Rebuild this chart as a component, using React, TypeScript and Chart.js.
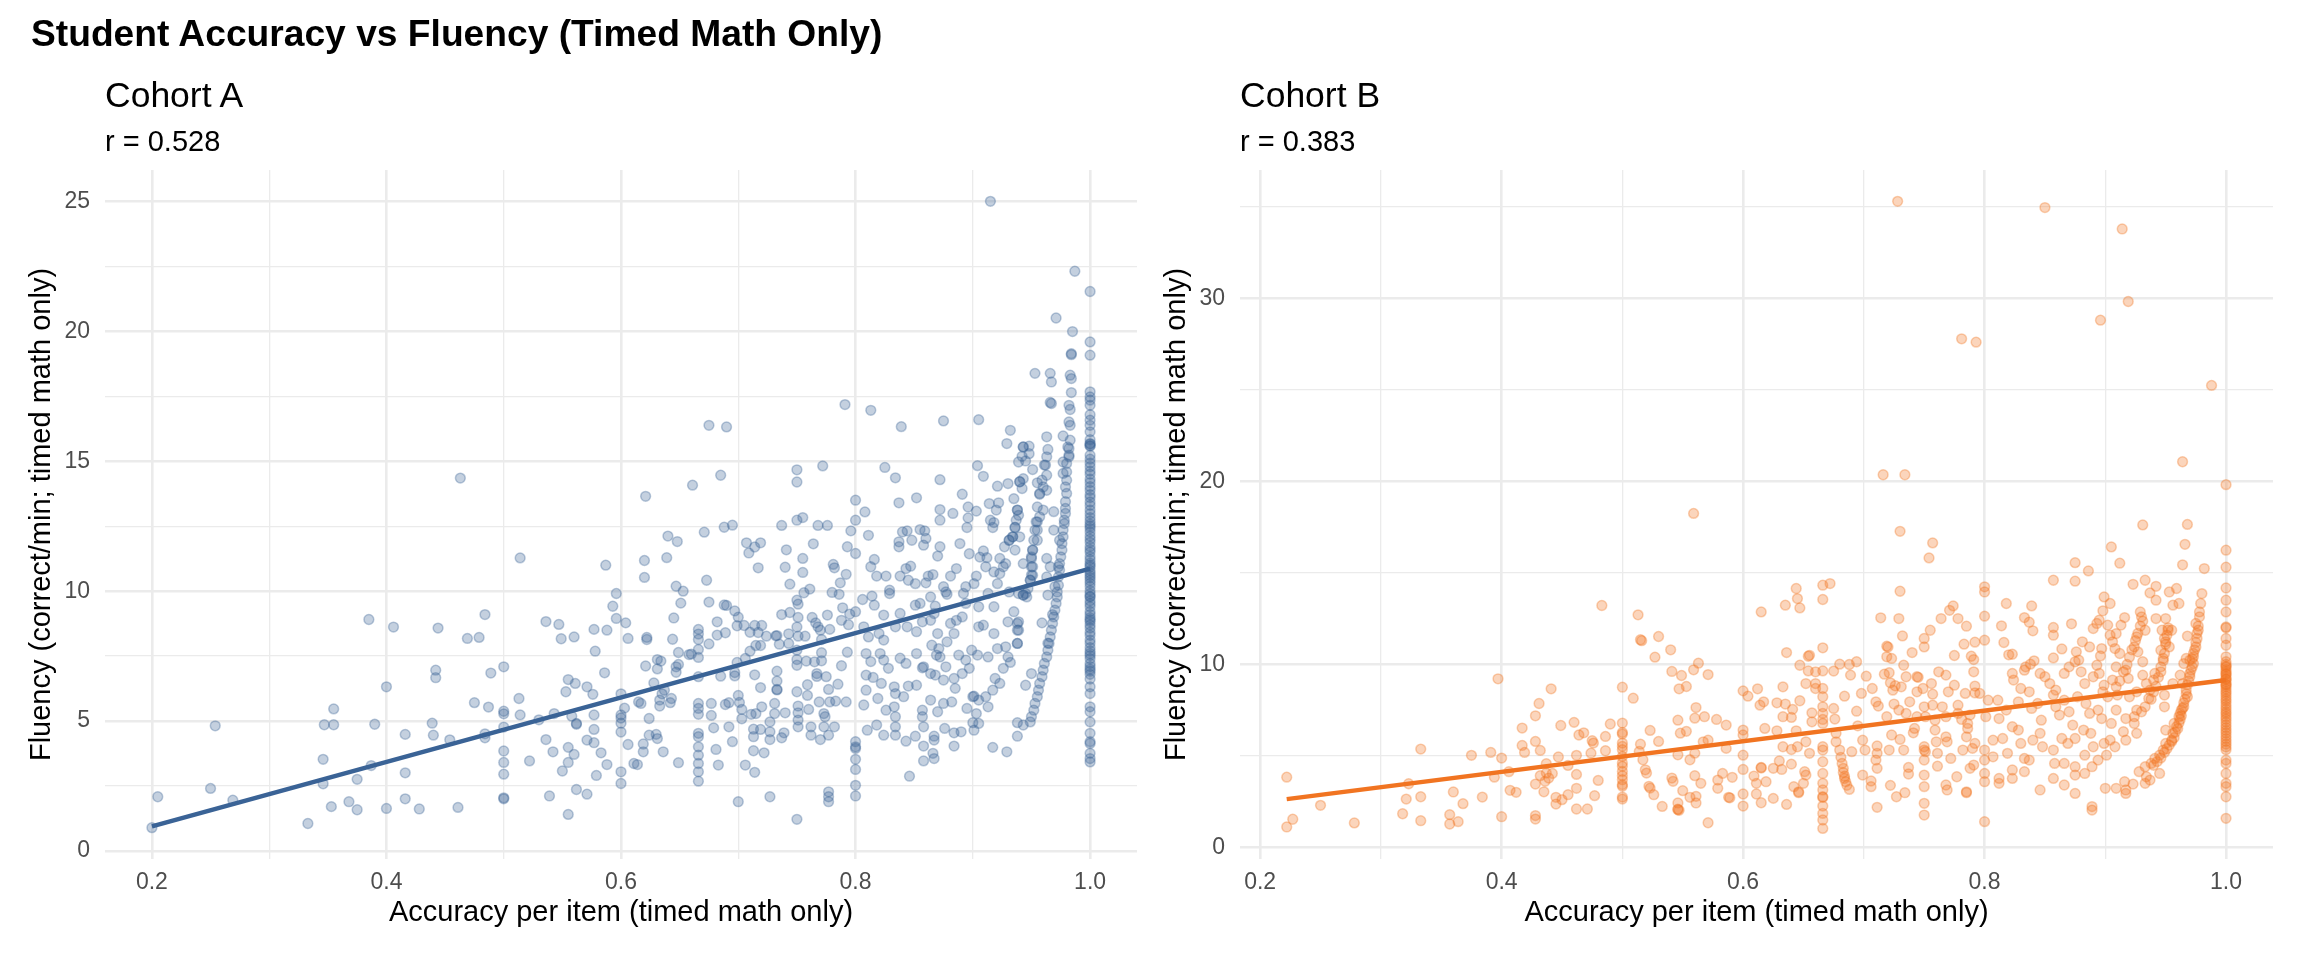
import React, { useEffect, useRef } from "react";
import { Chart, registerables } from "chart.js";

Chart.register(...registerables);

type P = [number, number];

// ---------------- Cohort A (accuracy, fluency) ----------------
const cohortA_low: P[] = [
  [0.2, 0.9], [0.205, 2.09], [0.25, 2.41], [0.254, 4.82], [0.269, 1.96], [0.333, 1.06], [0.346, 3.53], [0.346, 2.59],
  [0.347, 4.86], [0.355, 4.86], [0.355, 5.47], [0.353, 1.71], [0.368, 1.9], [0.375, 2.76], [0.375, 1.59], [0.385, 8.91],
  [0.387, 3.29], [0.39, 4.88], [0.4, 6.32], [0.4, 1.64], [0.406, 8.62], [0.416, 4.49], [0.416, 3.01], [0.416, 2.01],
  [0.428, 1.62], [0.439, 4.92], [0.44, 4.46], [0.442, 6.96], [0.442, 6.67], [0.444, 8.58], [0.454, 4.28], [0.461, 1.68],
  [0.463, 14.35], [0.469, 8.18], [0.479, 8.22], [0.475, 5.71], [0.484, 9.1], [0.484, 4.51], [0.484, 4.36], [0.487, 5.54],
  [0.489, 6.85], [0.5, 7.09], [0.5, 5.38], [0.5, 5.28], [0.5, 4.77], [0.5, 3.85], [0.5, 3.41], [0.5, 2.96], [0.5, 2.01],
  [0.5, 2.05], [0.514, 11.28], [0.513, 5.87], [0.514, 5.24], [0.522, 3.47], [0.53, 5.05], [0.536, 8.83], [0.536, 4.29],
  [0.539, 2.12], [0.542, 3.82], [0.543, 5.29], [0.547, 8.72], [0.549, 8.17], [0.55, 3.08], [0.553, 6.13], [0.555, 6.6],
  [0.555, 3.99], [0.555, 3.41], [0.555, 1.41], [0.558, 5.19], [0.56, 8.24], [0.561, 6.45], [0.562, 4.91], [0.562, 4.88],
  [0.56, 3.72], [0.562, 2.37], [0.571, 6.32], [0.571, 4.27], [0.571, 2.19], [0.576, 6.03], [0.577, 8.53], [0.578, 7.69],
  [0.577, 5.24], [0.577, 4.68], [0.577, 4.17], [0.579, 2.91], [0.583, 3.78], [0.586, 6.86], [0.587, 11.0], [0.588, 8.5],
  [0.588, 3.33], [0.593, 9.42], [0.596, 9.91], [0.596, 8.95], [0.6, 3.05], [0.6, 2.6], [0.6, 6.05], [0.6, 5.24],
  [0.6, 5.12], [0.6, 4.92], [0.6, 4.58], [0.604, 8.78], [0.606, 8.18], [0.606, 4.1], [0.603, 5.5],
];

const cohortA_mid: P[] = [
  [0.791, 17.18], [0.675, 16.38], [0.69, 16.32], [0.772, 14.82], [0.75, 14.67], [0.75, 14.2], [0.685, 14.46], [0.661, 14.08],
  [0.621, 13.65], [0.75, 12.73], [0.755, 12.83], [0.737, 12.53], [0.768, 12.53], [0.776, 12.53], [0.688, 12.46], [0.695, 12.54],
  [0.671, 12.27], [0.796, 12.32], [0.64, 12.12], [0.648, 11.91], [0.707, 11.86], [0.719, 11.86], [0.709, 11.47], [0.714, 11.7],
  [0.741, 11.59], [0.764, 11.82], [0.793, 11.71], [0.639, 11.29], [0.62, 11.18], [0.62, 10.53], [0.717, 10.9], [0.74, 10.92],
  [0.755, 11.26], [0.755, 10.72], [0.781, 11.03], [0.782, 10.9], [0.792, 10.65], [0.673, 10.42], [0.744, 10.27], [0.787, 10.32],
  [0.647, 10.19], [0.653, 10.0], [0.761, 10.08], [0.756, 9.94], [0.78, 9.95], [0.786, 9.88], [0.651, 9.54], [0.675, 9.58],
  [0.688, 9.47], [0.69, 9.45], [0.75, 9.65], [0.751, 9.5], [0.645, 8.97], [0.682, 8.82], [0.697, 9.24], [0.7, 9.0],
  [0.699, 8.67], [0.705, 8.68], [0.737, 9.1], [0.744, 9.18], [0.751, 8.99], [0.763, 8.99], [0.776, 9.08], [0.766, 8.78],
  [0.789, 9.36], [0.788, 8.88], [0.795, 9.12], [0.622, 8.22], [0.622, 8.14], [0.644, 8.15], [0.666, 8.53], [0.666, 8.35],
  [0.666, 8.14], [0.675, 7.97], [0.682, 8.31], [0.689, 8.4], [0.71, 8.42], [0.714, 8.68], [0.72, 8.68], [0.717, 8.41],
  [0.724, 8.27], [0.732, 8.28], [0.733, 8.29], [0.743, 8.36], [0.75, 8.62], [0.751, 8.27], [0.757, 8.27], [0.768, 8.63],
  [0.77, 8.5], [0.771, 8.14], [0.778, 8.53], [0.794, 8.71], [0.649, 7.64], [0.658, 7.56], [0.66, 7.58], [0.666, 7.76],
  [0.666, 7.45], [0.71, 7.69], [0.715, 7.91], [0.719, 7.91], [0.735, 7.96], [0.743, 7.99], [0.699, 7.26], [0.706, 7.41],
  [0.75, 7.73], [0.75, 7.37], [0.75, 7.15], [0.758, 7.31], [0.765, 7.28], [0.771, 7.63], [0.771, 7.32], [0.793, 7.65],
  [0.631, 7.37], [0.634, 7.31], [0.621, 7.12], [0.631, 7.01], [0.647, 7.09], [0.647, 6.88], [0.649, 7.18], [0.666, 6.71],
  [0.685, 6.73], [0.697, 6.87], [0.697, 6.74], [0.714, 6.78], [0.733, 6.92], [0.733, 6.54], [0.733, 6.22], [0.733, 6.2],
  [0.767, 6.83], [0.767, 6.72], [0.775, 6.71], [0.788, 7.13], [0.628, 6.47], [0.637, 6.19], [0.635, 6.05], [0.719, 6.29],
  [0.75, 6.13], [0.759, 6.4], [0.759, 5.99], [0.777, 6.22], [0.785, 6.42], [0.615, 5.74], [0.617, 5.68], [0.633, 5.81],
  [0.633, 5.58], [0.643, 5.87], [0.642, 5.71], [0.666, 5.68], [0.666, 5.49], [0.666, 5.26], [0.677, 5.68], [0.677, 5.22],
  [0.689, 5.64], [0.692, 5.71], [0.7, 5.99], [0.701, 5.72], [0.703, 5.45], [0.703, 5.09], [0.711, 5.26], [0.715, 5.29],
  [0.72, 5.55], [0.731, 5.68], [0.731, 5.29], [0.74, 5.32], [0.751, 5.58], [0.751, 5.32], [0.751, 5.04], [0.751, 4.78],
  [0.76, 5.45], [0.769, 5.74], [0.773, 5.29], [0.774, 5.17], [0.778, 5.74], [0.783, 5.77], [0.792, 5.74], [0.624, 5.1],
  [0.624, 4.46], [0.63, 4.49], [0.631, 4.33], [0.619, 4.12], [0.619, 3.82], [0.636, 3.82], [0.666, 4.53], [0.666, 4.4],
  [0.666, 4.01], [0.666, 3.69], [0.666, 3.37], [0.666, 3.05], [0.666, 2.69], [0.679, 4.74], [0.681, 3.91], [0.683, 3.31],
  [0.692, 4.78], [0.695, 4.21], [0.649, 3.4], [0.611, 3.37], [0.614, 3.33], [0.7, 1.9], [0.706, 3.31], [0.713, 4.69],
  [0.713, 4.4], [0.713, 3.86], [0.714, 3.03], [0.719, 4.68], [0.722, 3.78], [0.727, 4.97], [0.727, 4.59], [0.727, 4.29],
  [0.727, 2.09], [0.737, 4.36], [0.739, 4.55], [0.762, 4.78], [0.762, 4.46], [0.77, 4.29], [0.773, 4.78], [0.777, 4.46],
  [0.782, 4.78], [0.75, 1.22], [0.777, 2.28], [0.777, 2.09], [0.777, 1.9], [0.8, 4.21], [0.8, 4.01], [0.8, 3.95],
  [0.8, 3.53], [0.8, 3.14], [0.8, 2.53], [0.8, 2.12],
];

const cohortA_high: P[] = [
  [0.825, 14.76], [0.834, 14.36], [0.872, 14.29], [0.904, 14.83], [0.909, 14.42], [0.939, 14.97], [0.945, 15.01], [0.951, 14.68],
  [0.961, 14.85], [0.963, 14.46], [0.977, 14.97], [0.943, 14.33], [0.921, 14.04], [0.93, 14.14], [0.94, 14.21], [0.942, 13.95],
  [0.955, 14.17], [0.96, 14.01], [0.963, 13.88], [0.957, 13.73], [0.8, 13.5], [0.808, 13.05], [0.837, 13.4], [0.852, 13.59],
  [0.891, 13.73], [0.922, 13.4], [0.914, 13.37], [0.935, 13.56], [0.938, 13.12], [0.872, 13.14], [0.872, 12.73], [0.883, 12.99],
  [0.896, 13.24], [0.903, 13.08], [0.896, 12.82], [0.895, 12.45], [0.915, 12.73], [0.918, 12.64], [0.917, 12.45], [0.92, 13.12],
  [0.939, 12.92], [0.937, 12.73], [0.936, 12.45], [0.96, 13.12], [0.957, 12.86], [0.955, 12.67], [0.969, 13.06], [0.955, 12.35],
  [0.969, 12.35], [0.8, 12.73], [0.811, 12.15], [0.84, 12.28], [0.844, 12.32], [0.855, 12.37], [0.859, 12.32], [0.837, 11.9],
  [0.837, 11.71], [0.848, 11.96], [0.858, 11.77], [0.86, 12.03], [0.872, 11.71], [0.87, 11.35], [0.889, 11.83], [0.897, 11.44],
  [0.906, 11.31], [0.909, 11.55], [0.912, 11.29], [0.923, 11.26], [0.927, 11.71], [0.931, 11.96], [0.934, 12.09], [0.94, 12.09],
  [0.936, 11.58], [0.951, 11.58], [0.95, 11.32], [0.955, 11.96], [0.963, 11.26], [0.8, 11.45], [0.816, 11.22], [0.813, 10.94],
  [0.818, 10.58], [0.826, 10.58], [0.838, 10.58], [0.843, 10.87], [0.847, 10.96], [0.845, 10.42], [0.851, 10.29], [0.86, 10.32],
  [0.862, 10.58], [0.866, 10.64], [0.875, 10.17], [0.881, 10.58], [0.886, 10.87], [0.903, 10.58], [0.901, 10.29], [0.894, 10.17],
  [0.911, 10.94], [0.918, 10.74], [0.923, 10.68], [0.926, 10.94], [0.928, 11.06], [0.921, 10.29], [0.943, 11.06], [0.95, 10.94],
  [0.951, 10.61], [0.949, 10.42], [0.966, 10.94], [0.963, 10.55], [0.806, 9.68], [0.814, 9.81], [0.829, 10.04], [0.829, 9.91],
  [0.816, 9.46], [0.824, 9.08], [0.838, 9.14], [0.851, 9.46], [0.855, 9.53], [0.864, 9.78], [0.868, 9.42], [0.877, 9.97],
  [0.878, 9.88], [0.892, 9.91], [0.894, 9.53], [0.905, 9.4], [0.913, 9.91], [0.918, 9.4], [0.931, 9.97], [0.939, 9.91],
  [0.943, 9.85], [0.946, 9.78], [0.935, 9.21], [0.964, 9.85], [0.8, 9.21], [0.807, 8.63], [0.811, 8.24], [0.82, 8.37],
  [0.824, 8.12], [0.834, 8.63], [0.844, 8.63], [0.852, 8.44], [0.857, 8.82], [0.864, 8.88], [0.867, 9.14], [0.87, 8.37],
  [0.881, 8.76], [0.886, 8.88], [0.884, 8.37], [0.891, 9.01], [0.905, 8.63], [0.909, 8.69], [0.918, 8.37], [0.93, 8.82],
  [0.938, 8.76], [0.939, 8.5], [0.938, 7.99], [0.959, 8.78], [0.809, 7.6], [0.813, 7.29], [0.821, 7.6], [0.824, 7.35],
  [0.828, 7.03], [0.838, 7.42], [0.843, 7.22], [0.852, 7.6], [0.858, 7.09], [0.865, 7.92], [0.871, 7.79], [0.869, 7.54],
  [0.872, 7.47], [0.878, 8.05], [0.888, 7.54], [0.894, 7.35], [0.899, 7.73], [0.904, 7.54], [0.913, 7.47], [0.921, 7.79],
  [0.928, 7.86], [0.93, 7.47], [0.932, 7.26], [0.809, 6.77], [0.815, 6.68], [0.822, 6.45], [0.833, 6.32], [0.834, 6.06],
  [0.845, 6.35], [0.852, 6.38], [0.857, 7.05], [0.864, 6.83], [0.868, 6.77], [0.877, 7.09], [0.875, 6.58], [0.884, 6.64],
  [0.885, 6.26], [0.891, 6.83], [0.897, 7.03], [0.901, 5.96], [0.919, 6.64], [0.923, 6.45], [0.917, 6.19], [0.926, 7.03],
  [0.945, 6.38], [0.95, 6.83], [0.807, 5.62], [0.809, 6.19], [0.819, 5.87], [0.826, 5.42], [0.833, 5.55], [0.834, 5.17],
  [0.841, 5.94], [0.857, 5.42], [0.857, 5.17], [0.864, 5.81], [0.87, 5.36], [0.875, 5.68], [0.882, 5.74], [0.895, 5.49],
  [0.9, 5.94], [0.905, 5.81], [0.903, 5.29], [0.911, 5.94], [0.913, 5.55], [0.938, 4.94], [0.943, 4.85], [0.81, 4.65],
  [0.818, 4.85], [0.824, 4.46], [0.834, 4.78], [0.834, 4.46], [0.843, 4.23], [0.851, 4.42], [0.858, 4.78], [0.858, 4.04],
  [0.867, 4.42], [0.867, 4.27], [0.866, 3.76], [0.867, 3.56], [0.858, 3.47], [0.876, 4.72], [0.884, 4.55], [0.884, 4.04],
  [0.89, 4.59], [0.9, 4.94], [0.901, 4.65], [0.905, 4.91], [0.917, 3.99], [0.929, 3.82], [0.938, 4.42], [0.846, 2.88],
];

const cohortA_arc: P[] = [
  [0.981, 15.55], [0.982, 15.17], [0.98, 14.91], [0.98, 14.59], [0.98, 14.27], [0.979, 14.01], [0.98, 13.76], [0.979, 13.44],
  [0.979, 13.18], [0.979, 12.99], [0.978, 12.6], [0.977, 12.35], [0.977, 12.09], [0.976, 11.83], [0.976, 11.58], [0.975, 11.32],
  [0.974, 11.06], [0.974, 10.81], [0.973, 10.55], [0.973, 10.23], [0.972, 9.97], [0.972, 9.78], [0.971, 9.53], [0.97, 9.27],
  [0.969, 9.01], [0.968, 8.76], [0.967, 8.5], [0.966, 8.24], [0.965, 7.99], [0.964, 7.73], [0.963, 7.47], [0.961, 7.22],
  [0.96, 6.96], [0.959, 6.71], [0.957, 6.45], [0.956, 6.19], [0.955, 5.94], [0.953, 5.68], [0.952, 5.42], [0.95, 5.17],
  [0.949, 4.97], [0.977, 14.53], [0.978, 12.73], [0.974, 11.96], [0.973, 10.94], [0.97, 10.17], [0.968, 9.1], [0.964, 8.0],
];

const cohortA_arc2: P[] = [
  [0.962, 14.85], [0.959, 14.27], [0.957, 13.76], [0.955, 13.24], [0.954, 12.67], [0.953, 12.35], [0.952, 11.96], [0.951, 11.58],
  [0.95, 11.26], [0.951, 10.94], [0.95, 10.62], [0.949, 10.42], [0.947, 10.1], [0.945, 9.91], [0.943, 9.85], [0.939, 8.82],
  [0.938, 8.5], [0.938, 7.99], [0.943, 15.55], [0.94, 14.21], [0.938, 13.12], [0.936, 12.45], [0.934, 12.09], [0.931, 11.96],
];

const cohortA_top: P[] = [
  [0.915, 25.0], [0.987, 22.31], [0.971, 20.51], [0.985, 19.99], [0.984, 19.14], [0.984, 19.1], [0.953, 18.38], [0.966, 18.38],
  [0.967, 18.05], [0.983, 18.31], [0.984, 18.18], [0.984, 17.64], [0.966, 17.26], [0.967, 17.22], [0.982, 17.15], [0.983, 16.99],
  [0.982, 16.51], [0.983, 16.38], [0.977, 15.97], [0.983, 15.81], [0.963, 15.94], [0.964, 15.45], [0.963, 15.17], [0.982, 15.49],
  [0.982, 15.23], [0.932, 16.19], [0.929, 15.68], [0.943, 15.55], [0.948, 15.58], [0.948, 15.29], [0.942, 15.19], [0.905, 16.6],
  [0.875, 16.55], [0.839, 16.33], [0.813, 16.96],
];

const cohortA_perfect: P[] = [
  [1, 21.53], [1, 19.59], [1, 19.08], [1, 17.67], [1, 17.47], [1, 17.35], [1, 17.15], [1, 16.79], [1, 16.58], [1, 16.38],
  [1, 16.13], [1, 15.83], [1, 15.68], [1, 15.66], [1, 15.58], [1, 15.23], [1, 15.08], [1, 14.93], [1, 14.79], [1, 14.62],
  [1, 14.5], [1, 14.31], [1, 14.18], [1, 14.02], [1, 13.88], [1, 13.71], [1, 13.6], [1, 13.43], [1, 13.3], [1, 13.12],
  [1, 12.98], [1, 12.83], [1, 12.7], [1, 12.58], [1, 12.41], [1, 12.28], [1, 12.12], [1, 12.0], [1, 11.88], [1, 11.72],
  [1, 11.6], [1, 11.5], [1, 11.33], [1, 11.21], [1, 11.08], [1, 10.93], [1, 10.8], [1, 10.7], [1, 10.52], [1, 10.41],
  [1, 10.3], [1, 10.18], [1, 10.02], [1, 9.9], [1, 9.78], [1, 9.63], [1, 9.52], [1, 9.4], [1, 9.22], [1, 9.1],
  [1, 8.98], [1, 8.83], [1, 8.7], [1, 8.58], [1, 8.42], [1, 8.3], [1, 8.12], [1, 8.0], [1, 7.83], [1, 7.7],
  [1, 7.52], [1, 7.4], [1, 7.22], [1, 7.1], [1, 6.92], [1, 6.8], [1, 6.62], [1, 6.32], [1, 6.06], [1, 5.55],
  [1, 5.36], [1, 4.97], [1, 4.53], [1, 4.21], [1, 4.14], [1, 3.76], [1, 3.56], [1, 3.43], [1, 15.6], [1, 12.5],
  [1, 11.0], [1, 10.6], [1, 9.8], [1, 8.9], [1, 7.6], [1, 7.0],
];

const cohortA_fit: P[] = [[0.2, 0.95], [1.0, 10.87]];

// ---------------- Cohort B (accuracy, fluency) ----------------
const cohortB_low: P[] = [
  [0.222, 3.85], [0.222, 1.13], [0.227, 1.55], [0.25, 2.31], [0.278, 1.35], [0.318, 1.85], [0.321, 2.65], [0.323, 3.49],
  [0.333, 5.38], [0.333, 2.78], [0.333, 1.47], [0.357, 1.8], [0.357, 1.29], [0.36, 3.04], [0.364, 1.42], [0.368, 2.4],
  [0.375, 5.04], [0.384, 2.76], [0.391, 5.2], [0.394, 3.85], [0.397, 9.22], [0.4, 4.89], [0.4, 1.69], [0.406, 4.15],
  [0.407, 3.13], [0.412, 3.02], [0.417, 6.53], [0.417, 5.58], [0.419, 5.2], [0.428, 7.2], [0.431, 7.87], [0.428, 5.8],
  [0.432, 5.31], [0.428, 3.47], [0.428, 1.75], [0.428, 1.56], [0.435, 3.05], [0.436, 3.62], [0.437, 4.58], [0.437, 4.07],
  [0.432, 3.93], [0.439, 3.8], [0.441, 8.67], [0.442, 4.05], [0.445, 2.75], [0.445, 2.38], [0.447, 4.95], [0.449, 6.67],
  [0.45, 2.62], [0.455, 4.49], [0.455, 2.89], [0.46, 6.84], [0.462, 5.04], [0.462, 4.0], [0.462, 3.24], [0.462, 2.11],
  [0.464, 6.15], [0.468, 6.27], [0.474, 5.16], [0.475, 5.84], [0.476, 5.71], [0.471, 2.11], [0.477, 2.84], [0.48, 3.67],
  [0.483, 13.22], [0.486, 6.07], [0.486, 5.29], [0.49, 6.75], [0.5, 8.76], [0.5, 6.8], [0.5, 6.29], [0.5, 6.2],
  [0.5, 5.71], [0.5, 5.53], [0.5, 5.35], [0.5, 4.98], [0.5, 4.62], [0.5, 4.44], [0.5, 4.16], [0.5, 3.93],
  [0.5, 3.71], [0.5, 3.44], [0.5, 3.35], [0.5, 2.76], [0.5, 2.65], [0.509, 8.16], [0.513, 12.71], [0.515, 11.35],
  [0.516, 11.3], [0.515, 5.65], [0.514, 5.25], [0.517, 4.8], [0.519, 4.25], [0.52, 4.07], [0.522, 3.35], [0.523, 6.4],
  [0.523, 3.25], [0.526, 2.89], [0.527, 10.4], [0.53, 11.53], [0.53, 5.8], [0.533, 2.25], [0.54, 10.8], [0.541, 9.62],
  [0.541, 3.8], [0.542, 3.62], [0.546, 6.96], [0.546, 5.07], [0.546, 2.44], [0.546, 2.07], [0.546, 2.1], [0.547, 2.04],
  [0.548, 6.25], [0.547, 8.67], [0.549, 9.4], [0.55, 3.11], [0.553, 8.8], [0.553, 6.35], [0.556, 4.8], [0.556, 2.75],
  [0.559, 9.71], [0.56, 7.07], [0.561, 7.65], [0.56, 5.16], [0.56, 3.93], [0.561, 2.8], [0.561, 2.44], [0.563, 10.07],
];

const cohortB_mid: P[] = [
  [0.644, 14.15], [0.645, 13.6], [0.647, 13.09], [0.666, 14.33], [0.672, 14.42], [0.666, 13.55], [0.615, 12.87], [0.635, 13.24],
  [0.73, 14.0], [0.714, 12.55], [0.729, 12.51], [0.732, 11.56], [0.755, 11.87], [0.75, 11.42], [0.75, 10.96], [0.764, 12.51],
  [0.771, 12.96], [0.774, 13.2], [0.778, 12.51], [0.785, 12.09], [0.783, 11.11], [0.792, 11.22], [0.775, 10.49], [0.789, 10.45],
  [0.791, 10.27], [0.791, 9.6], [0.719, 11.0], [0.72, 10.95], [0.723, 10.33], [0.719, 10.42], [0.74, 10.65], [0.666, 10.91],
  [0.636, 10.65], [0.654, 10.45], [0.655, 10.5], [0.647, 9.96], [0.571, 9.45], [0.654, 9.65], [0.66, 9.6], [0.666, 9.65],
  [0.675, 9.64], [0.68, 10.02], [0.688, 10.0], [0.689, 9.42], [0.694, 10.15], [0.652, 8.96], [0.66, 8.96], [0.66, 8.69],
  [0.666, 8.69], [0.666, 8.24], [0.633, 8.78], [0.612, 8.67], [0.6, 8.56], [0.604, 8.27], [0.684, 8.27], [0.698, 8.42],
  [0.702, 9.36], [0.707, 8.69], [0.717, 9.47], [0.721, 9.55], [0.722, 9.0], [0.724, 8.6], [0.726, 8.84], [0.733, 9.96],
  [0.735, 9.33], [0.744, 9.33], [0.745, 9.3], [0.744, 8.51], [0.749, 8.69], [0.731, 8.78], [0.756, 8.96], [0.762, 9.6],
  [0.768, 9.42], [0.77, 8.51], [0.775, 8.87], [0.784, 8.42], [0.792, 8.82], [0.792, 8.45], [0.796, 8.42], [0.757, 8.38],
  [0.568, 7.15], [0.578, 7.0], [0.586, 6.69], [0.614, 7.78], [0.617, 7.96], [0.628, 7.91], [0.635, 7.84], [0.641, 7.55],
  [0.647, 8.02], [0.633, 7.15], [0.64, 7.11], [0.657, 7.36], [0.657, 6.87], [0.666, 7.69], [0.666, 7.33], [0.666, 7.0],
  [0.666, 6.78], [0.675, 7.6], [0.676, 7.02], [0.694, 7.45], [0.695, 6.65], [0.71, 7.96], [0.712, 7.73], [0.719, 7.15],
  [0.725, 7.84], [0.729, 7.51], [0.735, 7.33], [0.738, 7.96], [0.744, 7.15], [0.75, 7.69], [0.751, 7.15], [0.757, 7.78],
  [0.759, 6.96], [0.765, 7.69], [0.768, 7.15], [0.778, 7.78], [0.778, 7.33], [0.781, 7.0], [0.786, 6.78], [0.788, 7.24],
  [0.586, 5.42], [0.567, 5.78], [0.571, 5.87], [0.6, 6.42], [0.6, 6.15], [0.618, 6.51], [0.628, 6.38], [0.633, 5.51],
  [0.64, 5.36], [0.644, 6.38], [0.645, 5.51], [0.652, 5.78], [0.655, 5.15], [0.666, 5.51], [0.666, 5.33], [0.677, 6.24],
  [0.677, 5.78], [0.68, 5.33], [0.681, 4.93], [0.699, 5.87], [0.69, 5.24], [0.701, 5.33], [0.711, 5.55], [0.711, 5.15],
  [0.721, 5.33], [0.723, 6.15], [0.73, 5.91], [0.733, 5.33], [0.742, 6.51], [0.741, 6.27], [0.75, 5.51], [0.751, 5.24],
  [0.759, 6.42], [0.76, 5.78], [0.761, 5.15], [0.768, 6.05], [0.769, 5.78], [0.772, 4.87], [0.782, 5.33], [0.785, 6.05],
  [0.786, 6.51], [0.79, 5.42], [0.792, 5.69], [0.565, 3.51], [0.579, 3.69], [0.579, 3.24], [0.583, 4.05], [0.591, 3.84],
  [0.588, 2.75], [0.589, 2.72], [0.6, 5.05], [0.6, 4.27], [0.6, 2.93], [0.6, 2.27], [0.609, 3.91], [0.611, 3.51],
  [0.611, 2.93], [0.615, 4.38], [0.615, 4.35], [0.615, 2.45], [0.619, 3.6], [0.625, 4.33], [0.625, 2.69], [0.63, 4.73],
  [0.632, 4.27], [0.636, 2.36], [0.64, 4.56], [0.642, 3.33], [0.646, 3.05], [0.646, 3.0], [0.65, 3.51], [0.651, 4.15],
  [0.652, 3.96], [0.666, 4.69], [0.666, 4.05], [0.666, 3.51], [0.666, 3.15], [0.666, 2.78], [0.666, 2.74], [0.666, 2.27],
  [0.666, 1.87], [0.666, 1.51], [0.666, 1.05], [0.683, 4.33], [0.684, 3.78], [0.685, 3.6], [0.688, 3.18], [0.682, 4.6],
  [0.683, 4.1], [0.684, 3.9], [0.686, 3.4], [0.699, 3.96], [0.706, 3.64], [0.706, 3.33], [0.71, 4.78], [0.711, 4.33],
  [0.711, 2.2], [0.722, 3.4], [0.727, 2.78], [0.734, 3.0], [0.737, 4.38], [0.737, 4.02], [0.75, 5.33], [0.75, 4.78],
  [0.75, 3.96], [0.75, 3.33], [0.75, 2.42], [0.75, 1.78], [0.761, 4.45], [0.768, 3.42], [0.769, 3.15], [0.777, 3.87],
  [0.785, 3.05], [0.785, 3.0], [0.788, 4.33], [0.791, 4.51], [0.571, 1.36],
];

const cohortB_high: P[] = [
  [0.857, 14.6], [0.875, 14.55], [0.923, 14.38], [0.933, 14.6], [0.937, 13.91], [0.942, 14.27], [0.942, 13.51], [0.953, 13.96],
  [0.959, 14.15], [0.98, 13.87], [0.979, 13.33], [0.978, 12.87], [0.956, 13.24], [0.961, 13.33], [0.8, 14.24], [0.8, 13.96],
  [0.8, 12.64], [0.818, 13.33], [0.839, 13.2], [0.899, 13.69], [0.904, 13.33], [0.898, 12.93], [0.833, 12.56], [0.837, 12.31],
  [0.84, 11.84], [0.814, 12.11], [0.816, 11.2], [0.82, 10.53], [0.823, 10.56], [0.857, 12.02], [0.857, 11.6], [0.872, 12.22],
  [0.864, 10.85], [0.857, 10.36], [0.876, 10.69], [0.878, 10.24], [0.881, 11.24], [0.887, 10.96], [0.89, 11.96], [0.893, 12.24],
  [0.895, 12.42], [0.897, 10.87], [0.896, 10.47], [0.902, 12.15], [0.904, 11.6], [0.906, 11.24], [0.909, 11.69], [0.913, 12.15],
  [0.916, 12.56], [0.912, 10.6], [0.908, 10.87], [0.929, 12.87], [0.931, 12.36], [0.933, 11.87], [0.926, 11.51], [0.924, 10.96],
  [0.927, 10.69], [0.931, 10.15], [0.942, 12.51], [0.95, 12.51], [0.947, 11.87], [0.952, 11.87], [0.955, 11.87], [0.949, 11.42],
  [0.95, 11.24], [0.953, 10.96], [0.946, 10.78], [0.948, 10.33], [0.946, 9.87], [0.968, 11.55], [0.975, 12.24], [0.977, 11.87],
  [0.976, 11.42], [0.975, 10.96], [0.973, 10.42], [0.973, 10.05], [0.97, 10.24], [0.967, 10.33], [0.965, 10.05], [0.8, 11.33],
  [0.823, 9.51], [0.824, 9.15], [0.83, 8.69], [0.834, 9.87], [0.838, 10.02], [0.841, 10.2], [0.833, 9.69], [0.837, 8.51],
  [0.846, 9.51], [0.85, 9.33], [0.854, 8.96], [0.859, 8.6], [0.866, 9.51], [0.87, 9.87], [0.875, 10.15], [0.88, 9.6],
  [0.883, 8.96], [0.89, 9.33], [0.893, 9.96], [0.895, 9.51], [0.899, 8.87], [0.898, 8.51], [0.902, 8.24], [0.909, 9.87],
  [0.906, 9.15], [0.909, 8.78], [0.91, 8.33], [0.917, 9.69], [0.919, 9.24], [0.92, 8.24], [0.926, 8.51], [0.931, 9.42],
  [0.934, 8.96], [0.937, 8.6], [0.94, 9.15], [0.941, 9.51], [0.936, 8.15], [0.933, 7.69], [0.93, 7.42], [0.926, 7.51],
  [0.924, 7.15], [0.949, 8.33], [0.949, 7.69], [0.956, 8.96], [0.962, 9.42], [0.964, 8.96], [0.967, 8.6], [0.97, 9.33],
  [0.972, 9.87], [0.968, 8.24], [0.965, 7.69], [0.962, 7.33], [0.957, 6.78], [0.803, 8.05], [0.811, 8.05], [0.801, 7.15],
  [0.812, 7.05], [0.818, 7.51], [0.823, 6.6], [0.828, 7.96], [0.839, 7.6], [0.844, 7.87], [0.847, 6.96], [0.857, 8.33],
  [0.859, 7.69], [0.862, 7.24], [0.866, 8.05], [0.87, 7.42], [0.877, 8.24], [0.884, 7.87], [0.887, 7.33], [0.894, 7.51],
  [0.897, 7.05], [0.905, 6.78], [0.909, 7.51], [0.917, 7.05], [0.8, 5.33], [0.8, 4.78], [0.8, 4.05], [0.8, 3.6],
  [0.8, 1.42], [0.807, 5.87], [0.807, 4.96], [0.812, 3.78], [0.812, 3.51], [0.815, 5.96], [0.819, 5.15], [0.823, 4.24],
  [0.823, 3.78], [0.828, 6.42], [0.83, 5.69], [0.833, 4.87], [0.833, 4.15], [0.837, 4.78], [0.84, 5.87], [0.846, 6.24],
  [0.846, 3.15], [0.848, 5.51], [0.857, 5.33], [0.858, 4.6], [0.857, 3.78], [0.864, 5.96], [0.866, 4.6], [0.866, 3.42],
  [0.869, 5.69], [0.873, 6.69], [0.875, 5.96], [0.875, 4.42], [0.875, 3.96], [0.875, 2.96], [0.882, 6.42], [0.883, 5.05],
  [0.883, 4.05], [0.888, 6.24], [0.89, 5.51], [0.889, 4.42], [0.889, 2.24], [0.889, 2.05], [0.894, 4.78], [0.899, 5.69],
  [0.901, 5.05], [0.9, 3.24], [0.904, 5.87], [0.908, 5.51], [0.909, 3.24], [0.915, 6.33], [0.917, 5.87], [0.916, 3.6],
  [0.917, 3.15], [0.917, 2.96], [0.923, 3.47], [0.926, 6.24], [0.924, 6.78], [0.928, 4.15], [0.933, 4.42], [0.934, 3.87],
  [0.938, 4.6], [0.941, 4.87], [0.945, 5.05], [0.948, 5.33], [0.95, 5.69], [0.95, 6.42], [0.955, 5.87], [0.956, 6.24],
  [0.959, 6.6], [0.961, 7.15], [0.963, 7.51], [0.945, 4.05], [0.937, 3.69], [0.933, 3.51],
];

const cohortB_arcs: P[] = [
  [0.978, 12.6], [0.977, 12.1], [0.976, 11.7], [0.975, 11.2], [0.974, 10.8], [0.973, 10.6], [0.972, 10.3], [0.971, 9.7],
  [0.97, 9.5], [0.969, 9.1], [0.968, 8.9], [0.967, 8.4], [0.966, 8.1], [0.965, 7.9], [0.964, 7.6], [0.963, 7.2],
  [0.962, 7.0], [0.961, 6.8], [0.96, 6.5], [0.958, 6.3], [0.957, 6.0], [0.955, 5.8], [0.953, 5.6], [0.951, 5.4],
  [0.949, 5.2], [0.946, 4.9], [0.943, 4.7], [0.94, 4.5], [0.952, 12.0], [0.951, 11.6], [0.95, 11.1], [0.949, 10.6],
  [0.948, 10.2], [0.946, 9.6], [0.944, 9.3], [0.942, 8.8], [0.94, 8.5], [0.938, 8.1], [0.93, 12.6], [0.929, 12.1],
  [0.927, 11.7], [0.925, 11.3], [0.922, 10.8], [0.92, 10.4], [0.918, 10.0], [0.915, 9.6], [0.912, 9.1],
];

const cohortB_outliers: P[] = [
  [0.728, 35.29], [0.85, 34.95], [0.914, 33.78], [0.919, 29.82], [0.896, 28.8], [0.781, 27.78], [0.793, 27.6], [0.988, 25.24],
  [0.964, 21.07], [0.716, 20.36], [0.734, 20.36], [0.559, 18.25], [0.73, 17.27], [0.757, 16.64], [0.754, 15.82], [0.931, 17.62],
  [0.968, 17.65], [0.905, 16.42], [0.966, 16.56], [0.875, 15.56], [0.886, 15.11], [0.912, 15.53], [0.964, 15.44], [0.982, 15.24],
];

const cohortB_perfect: P[] = [
  [1, 19.82], [1, 16.24], [1, 15.31], [1, 14.18], [1, 13.51], [1, 12.87], [1, 12.05], [1, 12.0], [1, 11.42], [1, 11.05],
  [1, 10.42], [1, 10.15], [1, 10.0], [1, 9.86], [1, 9.72], [1, 9.61], [1, 9.47], [1, 9.33], [1, 9.2], [1, 9.06],
  [1, 8.92], [1, 8.8], [1, 8.66], [1, 8.52], [1, 8.41], [1, 8.27], [1, 8.12], [1, 8.0], [1, 7.85], [1, 7.7],
  [1, 7.56], [1, 7.41], [1, 7.3], [1, 7.15], [1, 7.01], [1, 6.86], [1, 6.7], [1, 6.55], [1, 6.4], [1, 6.26],
  [1, 6.1], [1, 5.95], [1, 5.8], [1, 5.65], [1, 5.5], [1, 5.35], [1, 9.9], [1, 9.5], [1, 9.2], [1, 8.9],
  [1, 4.78], [1, 4.6], [1, 4.05], [1, 3.51], [1, 3.33], [1, 2.78], [1, 1.6],
];

const cohortB_fit: P[] = [[0.222, 2.65], [1.0, 9.15]];

// ---------------- text ----------------
const mainTitle = "Student Accuracy vs Fluency (Timed Math Only)";
const panelTitles = ["Cohort A", "Cohort B"];
const panelSubtitles = ["r = 0.528", "r = 0.383"];
const xAxisTitle = "Accuracy per item (timed math only)";
const yAxisTitle = "Fluency (correct/min; timed math only)";

const FONT = "'Liberation Sans', Arial, Helvetica, sans-serif";
const BLUE = "58,99,150";
const ORANGE = "241,116,33";

const toXY = (lists: P[][]) => lists.flat().map(([x, y]) => ({ x, y }));

interface PanelOpts {
  points: P[][];
  fit: P[];
  rgb: string;
  xMin: number;
  xMax: number;
  yMin: number;
  yMax: number;
  yStep: number;
  yLabelEvery: number;
  yAxisWidth: number;
  rightPad: number;
  yTitlePad: number;
}

function isMult(v: number, m: number) {
  const r = v / m;
  return Math.abs(r - Math.round(r)) < 1e-6;
}

function buildConfig(o: PanelOpts): any {
  return {
    type: "scatter",
    data: {
      datasets: [
        {
          type: "line",
          data: toXY([o.fit]),
          borderColor: `rgb(${o.rgb})`,
          borderWidth: 4.5,
          pointRadius: 0,
          fill: false,
          order: 0,
        },
        {
          type: "scatter",
          data: toXY(o.points),
          backgroundColor: `rgba(${o.rgb},0.3)`,
          borderColor: `rgba(${o.rgb},0.34)`,
          borderWidth: 1.5,
          pointRadius: 4.9,
          pointHoverRadius: 4.9,
          order: 1,
        },
      ],
    },
    options: {
      animation: false,
      responsive: false,
      devicePixelRatio: 1,
      events: [],
      layout: { padding: { left: 0, right: o.rightPad, top: 170, bottom: 0 } },
      plugins: { legend: { display: false }, tooltip: { enabled: false }, title: { display: false } },
      scales: {
        x: {
          type: "linear",
          min: o.xMin,
          max: o.xMax,
          border: { display: false },
          grid: {
            color: "#EBEBEB",
            drawTicks: false,
            lineWidth: (ctx: any) => (ctx.tick && isMult(ctx.tick.value, 0.2) ? 2.6 : 1.3),
          },
          ticks: {
            stepSize: 0.1,
            includeBounds: false,
            autoSkip: false,
            maxRotation: 0,
            padding: 10,
            color: "#4D4D4D",
            font: { family: FONT, size: 23 },
            callback: (v: number) => (isMult(v, 0.2) ? v.toFixed(1) : ""),
          },
          title: {
            display: true,
            text: xAxisTitle,
            color: "#000000",
            font: { family: FONT, size: 29 },
            padding: { top: 0, bottom: 29.6 },
          },
          afterFit: (s: any) => {
            s.height = 101;
          },
        },
        y: {
          type: "linear",
          min: o.yMin,
          max: o.yMax,
          border: { display: false },
          grid: {
            color: "#EBEBEB",
            drawTicks: false,
            lineWidth: (ctx: any) => (ctx.tick && isMult(ctx.tick.value, o.yLabelEvery) ? 2.6 : 1.3),
          },
          ticks: {
            stepSize: o.yStep,
            includeBounds: false,
            autoSkip: false,
            padding: 15,
            color: "#4D4D4D",
            font: { family: FONT, size: 23 },
            callback: (v: number) => (isMult(v, o.yLabelEvery) ? String(Math.round(v)) : ""),
          },
          title: {
            display: true,
            text: yAxisTitle,
            color: "#000000",
            font: { family: FONT, size: 29 },
            padding: { top: o.yTitlePad, bottom: 0 },
          },
          afterFit: (s: any) => {
            s.width = o.yAxisWidth;
          },
        },
      },
    },
  };
}

function Panel({ left, width, opts }: { left: number; width: number; opts: PanelOpts }) {
  const ref = useRef<HTMLCanvasElement | null>(null);
  useEffect(() => {
    if (!ref.current) return;
    const chart = new Chart(ref.current, buildConfig(opts));
    return () => chart.destroy();
  }, []);
  return (
    <canvas
      ref={ref}
      width={width}
      height={960}
      style={{ position: "absolute", left, top: 0, width, height: 960 }}
    />
  );
}

function Text({ text, left, baseline, size, bold }: { text: string; left: number; baseline: number; size: number; bold?: boolean }) {
  return (
    <div
      style={{
        position: "absolute",
        left,
        top: baseline - 0.8465 * size,
        fontFamily: FONT,
        fontSize: size,
        lineHeight: `${size}px`,
        fontWeight: bold ? 700 : 400,
        color: "#000",
        whiteSpace: "nowrap",
      }}
    >
      {text}
    </div>
  );
}

const panelA: PanelOpts = {
  points: [cohortA_low, cohortA_mid, cohortA_high, cohortA_arc, cohortA_arc2, cohortA_top, cohortA_perfect],
  fit: cohortA_fit,
  rgb: BLUE,
  xMin: 0.16,
  xMax: 1.04,
  yMin: -0.305,
  yMax: 26.205,
  yStep: 2.5,
  yLabelEvery: 5,
  yAxisWidth: 105,
  rightPad: 23,
  yTitlePad: 24.6,
};

const panelB: PanelOpts = {
  points: [cohortB_low, cohortB_mid, cohortB_high, cohortB_arcs, cohortB_outliers, cohortB_perfect],
  fit: cohortB_fit,
  rgb: ORANGE,
  xMin: 0.1833,
  xMax: 1.0389,
  yMin: -0.62,
  yMax: 37.0,
  yStep: 5,
  yLabelEvery: 10,
  yAxisWidth: 90,
  rightPad: 31,
  yTitlePad: 9.6,
};

export default function App() {
  return (
    <div style={{ position: "absolute", left: 0, top: 0, width: 2304, height: 960, background: "#ffffff", overflow: "hidden" }}>
      <Panel left={0} width={1160} opts={panelA} />
      <Panel left={1150} width={1154} opts={panelB} />
      <Text text={mainTitle} left={31} baseline={46} size={37.2} bold />
      <Text text={panelTitles[0]} left={105} baseline={108} size={35.5} />
      <Text text={panelSubtitles[0]} left={105} baseline={152} size={29} />
      <Text text={panelTitles[1]} left={1240} baseline={108} size={35.5} />
      <Text text={panelSubtitles[1]} left={1240} baseline={152} size={29} />
    </div>
  );
}
